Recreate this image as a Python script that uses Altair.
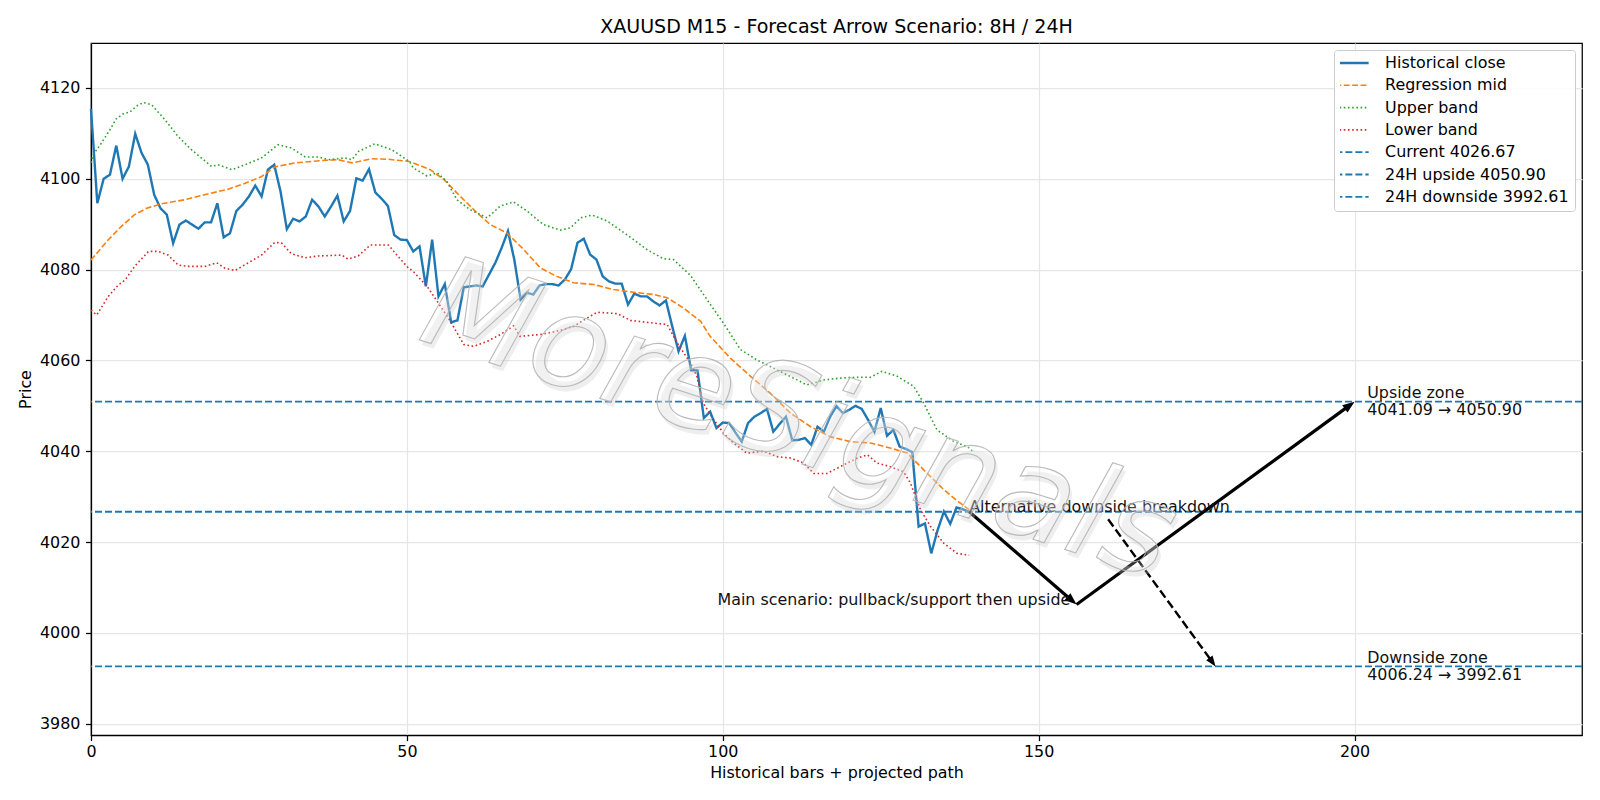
import math
import altair as alt
import pandas as pd

# ---------------- data ----------------
title_text = "XAUUSD M15 - Forecast Arrow Scenario: 8H / 24H"
x_label = "Historical bars + projected path"
y_label = "Price"

close = [
    4115.4, 4094.6, 4100.0, 4100.9, 4107.3, 4100.0, 4102.7, 4109.9, 4105.7, 4103.1,
    4096.5, 4093.5, 4092.1, 4085.8, 4089.9, 4090.8, 4089.9, 4089.0, 4090.4, 4090.4,
    4094.6, 4087.1, 4088.0, 4092.9, 4094.3, 4096.1, 4098.5, 4096.1, 4102.0, 4103.1,
    4097.2, 4088.9, 4091.2, 4090.6, 4091.7, 4095.4, 4093.9, 4091.7, 4093.9, 4096.3,
    4090.6, 4092.9, 4100.1, 4099.6, 4102.1, 4097.0, 4095.6, 4094.0, 4087.6, 4086.6,
    4086.5, 4084.0, 4085.1, 4076.3, 4086.6, 4074.1, 4076.8, 4068.4, 4068.8, 4076.1,
    4076.3, 4076.5, 4076.3, 4078.9, 4081.5, 4084.8, 4088.5, 4082.2, 4073.4, 4074.9,
    4074.5, 4076.5, 4076.8, 4076.8, 4076.5, 4077.8, 4080.1, 4085.9, 4086.8, 4083.3,
    4082.2, 4078.5, 4077.4, 4076.9, 4076.9, 4072.3, 4074.7, 4074.1, 4074.1, 4073.0,
    4072.1, 4073.2, 4067.5, 4062.0, 4065.4, 4057.8, 4057.8, 4047.3, 4048.7, 4045.1,
    4046.3, 4046.2, 4044.1, 4042.1, 4046.2, 4047.6, 4048.4, 4049.3, 4044.3, 4046.0,
    4047.6, 4042.4, 4042.5, 4042.9, 4041.4, 4045.4, 4044.3, 4047.6, 4049.9, 4048.4,
    4049.1, 4050.0, 4049.3, 4046.9, 4044.3, 4049.5, 4043.4, 4044.7, 4041.0, 4040.5,
    4039.8, 4023.4, 4024.1, 4017.5, 4022.6, 4026.7, 4024.0, 4027.6, 4027.2, 4026.67,
]

mid_x = [0, 2.7, 4.8, 6.9, 8.8, 11.2, 14.9, 18, 21.7, 24.4, 27, 29.1, 32.3, 36.5, 39.1,
         41.3, 44.4, 47, 50.4, 53.7, 55.8, 58.4, 61.1, 63.2, 65.8, 68.5, 71.1, 73.7, 76.4,
         79.6, 82.7, 85.9, 89.1, 91.2, 93.8, 96.5, 98, 101.2, 104.4, 107.5, 110.7, 113.9,
         117, 120.2, 123.4, 126.5, 129.2, 131.8, 135, 137.1, 139]
mid_y = [4082.1, 4086.5, 4089.5, 4092.1, 4093.5, 4094.5, 4095.4, 4096.5, 4097.7, 4099.0,
         4100.5, 4102.6, 4103.5, 4104.0, 4104.2, 4103.5, 4104.4, 4104.3, 4103.8, 4102.0,
         4099.9, 4096.2, 4092.5, 4089.9, 4088.1, 4084.4, 4080.4, 4078.5, 4077.1, 4076.7,
         4075.6, 4075.0, 4074.5, 4073.8, 4071.5, 4068.6, 4065.3, 4060.5, 4056.5, 4052.8,
         4048.4, 4045.4, 4043.2, 4042.1, 4041.8, 4040.7, 4039.6, 4035.9, 4031.5, 4029.1,
         4027.1]

upper_x = [0, 0.35, 1.67, 3, 4, 5.1, 6.15, 7.2, 8.3, 9.6, 11.7, 13.8, 15.9, 19.1, 20.1,
           22.3, 24.4, 27, 29.6, 31.7, 33.9, 36, 37.6, 40.2, 41.3, 42.3, 44.9, 47.6, 50.4,
           51, 53.2, 54.8, 56.3, 57.9, 60, 62.7, 64.8, 66.9, 69, 71.6, 74.3, 75.9, 77.5,
           79.3, 81.7, 84.8, 88, 90.6, 92.2, 94.9, 97.5, 100.1, 102.8, 105.4, 108.6, 111.2,
           113.3, 116, 118.6, 121.3, 123.4, 125.2, 127.6, 130.2, 131.8, 133.9, 136.6, 138.7,
           139.5]
upper_y = [4103.5, 4105.3, 4107.9, 4110.8, 4113.2, 4114.3, 4114.7, 4116.0, 4116.8, 4116.3,
           4113.0, 4109.3, 4106.4, 4102.7, 4103.1, 4102.0, 4103.1, 4104.6, 4107.5, 4106.8,
           4104.8, 4104.8, 4104.2, 4104.6, 4104.2, 4106.0, 4107.7, 4106.4, 4103.8, 4102.4,
           4100.6, 4101.3, 4099.5, 4095.4, 4093.2, 4091.4, 4094.0, 4094.9, 4092.9, 4089.9,
           4088.7, 4089.2, 4091.4, 4092.0, 4090.7, 4087.7, 4084.4, 4082.4, 4082.2, 4078.7,
           4073.4, 4068.2, 4062.4, 4060.1, 4057.9, 4056.1, 4054.6, 4055.7, 4056.1, 4056.3,
           4056.3, 4057.6, 4056.5, 4054.3, 4050.6, 4044.7, 4042.1, 4041.0, 4040.1]

lower_x = [0, 0.9, 2.7, 4.3, 5.4, 6.9, 9.1, 10.6, 12.2, 13.8, 15.4, 18, 19.9, 21.2, 22.8,
           24.9, 27, 29.1, 30.2, 31.7, 33.9, 36, 38.1, 39.7, 40.7, 42.3, 44.2, 47.1, 48.6,
           50.2, 51, 53.2, 54.8, 56.9, 59, 60.6, 62.7, 64.8, 66.9, 67.9, 71.1, 73.7, 76.4,
           78.5, 80.1, 83.3, 85.4, 89.1, 91.2, 92.8, 94.9, 95.9, 96.9, 98.6, 100.1, 101.7,
           103.8, 106.5, 108.6, 110.7, 112.8, 114.4, 116.5, 118.6, 121.3, 122.9, 124.4,
           126.5, 128.6, 129.7, 131.3, 132.9, 135, 137.1, 139]
lower_y = [4071.1, 4070.0, 4074.0, 4076.6, 4077.7, 4080.7, 4084.0, 4084.0, 4083.2, 4081.0,
           4080.7, 4080.7, 4081.5, 4080.3, 4079.8, 4081.5, 4083.2, 4086.0, 4085.8, 4083.5,
           4082.6, 4083.0, 4083.1, 4083.2, 4082.3, 4083.0, 4085.4, 4085.4, 4082.9, 4080.4,
           4079.6, 4076.3, 4073.0, 4068.6, 4063.5, 4063.1, 4064.2, 4065.7, 4067.6, 4065.3,
           4065.7, 4066.4, 4067.5, 4069.3, 4070.6, 4070.3, 4068.8, 4068.2, 4067.9, 4063.8,
           4059.4, 4056.5, 4050.6, 4046.9, 4044.0, 4041.8, 4039.6, 4040.0, 4038.8, 4038.5,
           4037.4, 4035.1, 4035.1, 4036.6, 4038.5, 4039.2, 4037.4, 4036.6, 4035.5, 4033.0,
           4027.1, 4023.4, 4019.7, 4017.5, 4017.1]

current_price = 4026.67
upside_start = 4041.09
upside_target = 4050.90
downside_start = 4006.24
downside_target = 3992.61

last_bar = len(close) - 1
support_bar = 156
target_bar = 200
alt_start_bar = 161
alt_start_price = 4025.0
alt_end_bar = 178
zone_label_bar = 202
main_label_bar = 155

x_domain = [0, 236]
y_domain = [3977.5, 4129.9]
x_ticks = [0, 50, 100, 150, 200]
y_ticks = [3980, 4000, 4020, 4040, 4060, 4080, 4100, 4120]

watermark_text = "MoreSignals"
watermark_pos = (112, 4046.2)

# ---------------- layout / style ----------------
W, H = 1491, 692
FONT = "DejaVu Sans"
FS = 15.9

series_names = [
    "Historical close", "Regression mid", "Upper band", "Lower band",
    f"Current {current_price:.2f}", f"24H upside {upside_target:.2f}",
    f"24H downside {downside_target:.2f}",
]
series_colors = ["#1f77b4", "#ff7f0e", "#2ca02c", "#d62728", "#1f77b4", "#1f77b4", "#1f77b4"]
series_dash = [[1, 0], [5.9, 2.5], [1.6, 2.6], [1.6, 2.6], [7, 3], [7, 3], [7, 3]]
series_width = [2.4, 1.6, 1.6, 1.6, 1.8, 1.8, 1.8]

leg = alt.Legend(
    orient="none", legendX=1243, legendY=7, title=None,
    symbolType="stroke", symbolSize=1109, symbolOffset=-6, clipHeight=14, rowPadding=6.3,
    labelOffset=15.1, padding=6, cornerRadius=3, strokeColor="#cccccc",
    fillColor="rgba(255,255,255,0.85)", labelFont=FONT, labelFontSize=FS,
    labelColor="black", labelLimit=500,
)

xs = alt.Scale(domain=x_domain, nice=False, zero=False)
ys = alt.Scale(domain=y_domain, nice=False, zero=False)


def enc_xy(xf="bar", yf="price"):
    return dict(
        x=alt.X(f"{xf}:Q", scale=xs, axis=alt.Axis(values=x_ticks, title=x_label, format="d")),
        y=alt.Y(f"{yf}:Q", scale=ys, axis=alt.Axis(values=y_ticks, title=y_label, format="d")),
    )


def enc_series():
    return dict(
        color=alt.Color("series:N", scale=alt.Scale(domain=series_names, range=series_colors), legend=leg),
        strokeDash=alt.StrokeDash("series:N", scale=alt.Scale(domain=series_names, range=series_dash), legend=leg),
        strokeWidth=alt.StrokeWidth("series:N", scale=alt.Scale(type="ordinal", domain=series_names, range=series_width), legend=leg),
    )


hist_df = pd.DataFrame({"bar": list(range(len(close))), "price": close, "series": series_names[0]})
mid_df = pd.DataFrame({"bar": mid_x, "price": mid_y, "series": series_names[1]})
up_df = pd.DataFrame({"bar": upper_x, "price": upper_y, "series": series_names[2]})
lo_df = pd.DataFrame({"bar": lower_x, "price": lower_y, "series": series_names[3]})
hl_df = pd.DataFrame({"price": [current_price, upside_target, downside_target], "series": series_names[4:]})

hist = alt.Chart(hist_df).mark_line().encode(**enc_xy(), **enc_series())
mid = alt.Chart(mid_df).mark_line().encode(**enc_xy(), **enc_series())
upper = alt.Chart(up_df).mark_line().encode(**enc_xy(), **enc_series())
lower = alt.Chart(lo_df).mark_line().encode(**enc_xy(), **enc_series())
hlines = alt.Chart(hl_df).mark_rule().encode(y=alt.Y("price:Q", scale=ys), **enc_series())

# ---------------- arrows ----------------
ppx = W / (x_domain[1] - x_domain[0])
ppy = H / (y_domain[1] - y_domain[0])


def arrow(x1, y1, x2, y2, back_px):
    dx = (x2 - x1) * ppx
    dy = -(y2 - y1) * ppy
    ln = math.hypot(dx, dy)
    ux, uy = dx / ln, dy / ln
    ang = math.degrees(math.atan2(dy, dx)) % 360
    ex = x2 - back_px * ux / ppx
    ey = y2 + back_px * uy / ppy
    return dict(x1=x1, y1=y1, x2=ex, y2=ey, tx=x2, ty=y2, angle=ang)


main_arrows = pd.DataFrame([
    arrow(last_bar, current_price, support_bar, downside_start, 7),
    arrow(support_bar, downside_start, target_bar, upside_target, 7),
])
alt_arrow = pd.DataFrame([arrow(alt_start_bar, alt_start_price, alt_end_bar, downside_target, 6)])

seg_enc = dict(
    x=alt.X("x1:Q", scale=xs), y=alt.Y("y1:Q", scale=ys),
    x2=alt.X2("x2:Q"), y2=alt.Y2("y2:Q"),
)
main_lines = alt.Chart(main_arrows).mark_rule(color="black", strokeWidth=3.2, strokeCap="butt").encode(**seg_enc)
alt_lines = alt.Chart(alt_arrow).mark_rule(color="black", strokeWidth=2.4, strokeDash=[8.8, 3.8], strokeCap="butt").encode(**seg_enc)

head_shape = "M0,0L-2,-0.75L-2,0.75Z"
head_enc = dict(x=alt.X("tx:Q", scale=xs), y=alt.Y("ty:Q", scale=ys), angle=alt.Angle("angle:Q", scale=None))
main_heads = alt.Chart(main_arrows).mark_point(shape=head_shape, filled=True, color="black", opacity=1, size=144, strokeWidth=0).encode(**head_enc)
alt_heads = alt.Chart(alt_arrow).mark_point(shape=head_shape, filled=True, color="black", opacity=1, size=110, strokeWidth=0).encode(**head_enc)

# ---------------- annotation texts ----------------
txt_alt = alt.Chart(pd.DataFrame({"bar": [last_bar], "price": [current_price], "t": ["Alternative downside breakdown"]})).mark_text(
    align="left", baseline="alphabetic", font=FONT, fontSize=FS, color="#111111"
).encode(x=alt.X("bar:Q", scale=xs), y=alt.Y("price:Q", scale=ys), text="t:N")

txt_main = alt.Chart(pd.DataFrame({"bar": [main_label_bar], "price": [downside_start], "t": ["Main scenario: pullback/support then upside"]})).mark_text(
    align="right", baseline="alphabetic", font=FONT, fontSize=FS, color="#111111"
).encode(x=alt.X("bar:Q", scale=xs), y=alt.Y("price:Q", scale=ys), text="t:N")

zones = pd.DataFrame({
    "bar": [zone_label_bar, zone_label_bar],
    "price": [upside_target, downside_target],
    "t": [f"Upside zone\n{upside_start:.2f} → {upside_target:.2f}",
          f"Downside zone\n{downside_start:.2f} → {downside_target:.2f}"],
})
txt_zones = alt.Chart(zones).mark_text(
    align="left", baseline="middle", font=FONT, fontSize=FS, color="#111111",
    lineBreak="\n", lineHeight=17.5, dy=-8.8,
).encode(x=alt.X("bar:Q", scale=xs), y=alt.Y("price:Q", scale=ys), text="t:N")

# ---------------- watermark ----------------
wm_shadow = alt.Chart(pd.DataFrame({"a": [0]})).mark_text(
    text=watermark_text, angle=18, fontSize=128, font=FONT, fontStyle="italic",
    color="#c8c8c8", opacity=0.3, align="center", baseline="middle", dx=4, dy=4,
).encode(x=alt.datum(watermark_pos[0], scale=xs), y=alt.datum(watermark_pos[1], scale=ys))
wm = alt.Chart(pd.DataFrame({"a": [0]})).mark_text(
    text=watermark_text, angle=18, fontSize=128, font=FONT, fontStyle="italic",
    color="white", fillOpacity=0.2, stroke="#b4b4b4", strokeWidth=1.1, strokeOpacity=0.9,
    align="center", baseline="middle",
).encode(x=alt.datum(watermark_pos[0], scale=xs), y=alt.datum(watermark_pos[1], scale=ys))

chart = alt.layer(
    hist, mid, upper, lower, hlines, main_lines, alt_lines, main_heads, alt_heads,
    txt_alt, txt_main, txt_zones, wm_shadow, wm,
).properties(
    width=W, height=H,
    title=alt.TitleParams(title_text, font=FONT, fontSize=19.05, fontWeight="normal",
                          color="black", anchor="middle", offset=-9, baseline="alphabetic"),
    autosize=alt.AutoSizeParams(type="none"),
    padding={"left": 91, "top": 43, "right": 18, "bottom": 65},
    background="white",
).configure_view(
    stroke="black", strokeWidth=1.25,
).configure_axis(
    labelFont=FONT, labelFontSize=FS, labelColor="black",
    titleFont=FONT, titleFontSize=FS, titleFontWeight="normal", titleColor="black",
    domainColor="black", domainWidth=1.25, tickColor="black", tickWidth=1.25, tickSize=5.6,
    gridColor="#e6e6e6", gridWidth=1.25, labelFlush=False, labelOverlap=False,
).configure_axisX(
    labelPadding=2.8, titlePadding=5,
).configure_axisY(
    labelPadding=5.5, titlePadding=5.5,
)

chart.save("out.html", embed_options={"renderer": "svg", "actions": False})
